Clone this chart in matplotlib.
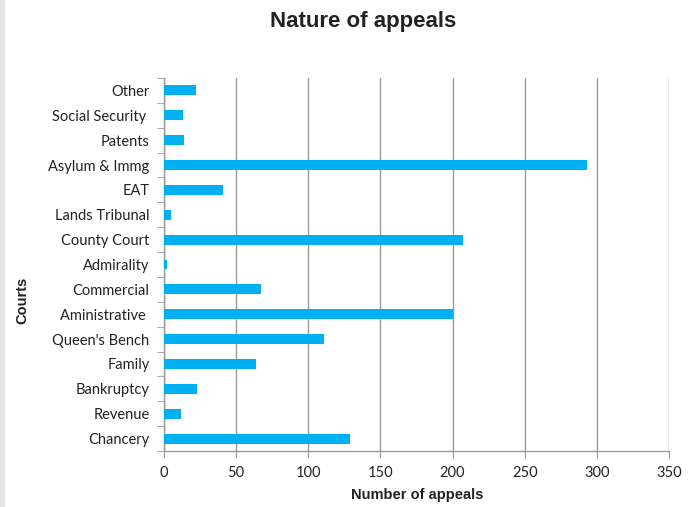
import matplotlib
matplotlib.use("Agg")
import matplotlib.pyplot as plt
import numpy as np
from matplotlib.ticker import FixedLocator

courts = ["Chancery", "Revenue", "Bankruptcy", "Family", "Queen's Bench",
          "Aministrative ", "Commercial", "Admirality", "County Court",
          "Lands Tribunal", "EAT", "Asylum & Immg", "Patents",
          "Social Security ", "Other"]
appeals = [129, 12, 23, 64, 111, 200, 67, 2, 207, 5, 41, 293, 14, 13, 22]
xticks = [0, 50, 100, 150, 200, 250, 300, 350]

fig = plt.figure(figsize=(6.99, 5.07), dpi=100)
ax = fig.add_axes([164/699, 1-451/507, (669-164)/699, (451-78)/507])

y = np.arange(len(courts))
ax.barh(y, appeals, height=0.4, color="#00B0F0", zorder=3)

ax.set_xlim(0, 350)
ax.set_ylim(-0.5, len(courts)-0.5)
ax.set_xticks(xticks)
ax.set_xticklabels([str(v) for v in xticks], fontfamily="Lato", fontsize=10.5, color="#222222")
ax.set_yticks(y)
ax.set_yticklabels(courts, fontfamily="Lato", fontsize=10.5, color="#222222")
ax.yaxis.set_minor_locator(FixedLocator(np.arange(-0.5, len(courts), 1)))
ax.tick_params(axis="y", which="major", length=0, pad=10.5)
ax.tick_params(axis="y", which="minor", length=5, color="#999999")
ax.tick_params(axis="x", which="major", length=5, color="#999999", pad=6)

ax.grid(axis="x", color="#999999", linewidth=1, zorder=0)
for s in ["top", "right"]:
    ax.spines[s].set_visible(False)
for s in ["left", "bottom"]:
    ax.spines[s].set_color("#999999")
    ax.spines[s].set_linewidth(1)

fig.text(363/699, 1-22/507, "Nature of appeals", ha="center", va="center",
         fontfamily="Liberation Sans", fontweight="bold", fontsize=16, color="#222222")
fig.text(417/699, 1-495/507, "Number of appeals", ha="center", va="center",
         fontfamily="Liberation Sans", fontweight="bold", fontsize=10.5, color="#222222")
fig.text(22/699, 1-300/507, "Courts", ha="center", va="center", rotation=90,
         fontfamily="Liberation Sans", fontweight="bold", fontsize=10.5, color="#222222")

fig.patches.append(plt.Rectangle((0, 0), 4/699, 1, transform=fig.transFigure,
                                 color="#e6e6e6", zorder=0))

fig.savefig("out.png", dpi=100)
